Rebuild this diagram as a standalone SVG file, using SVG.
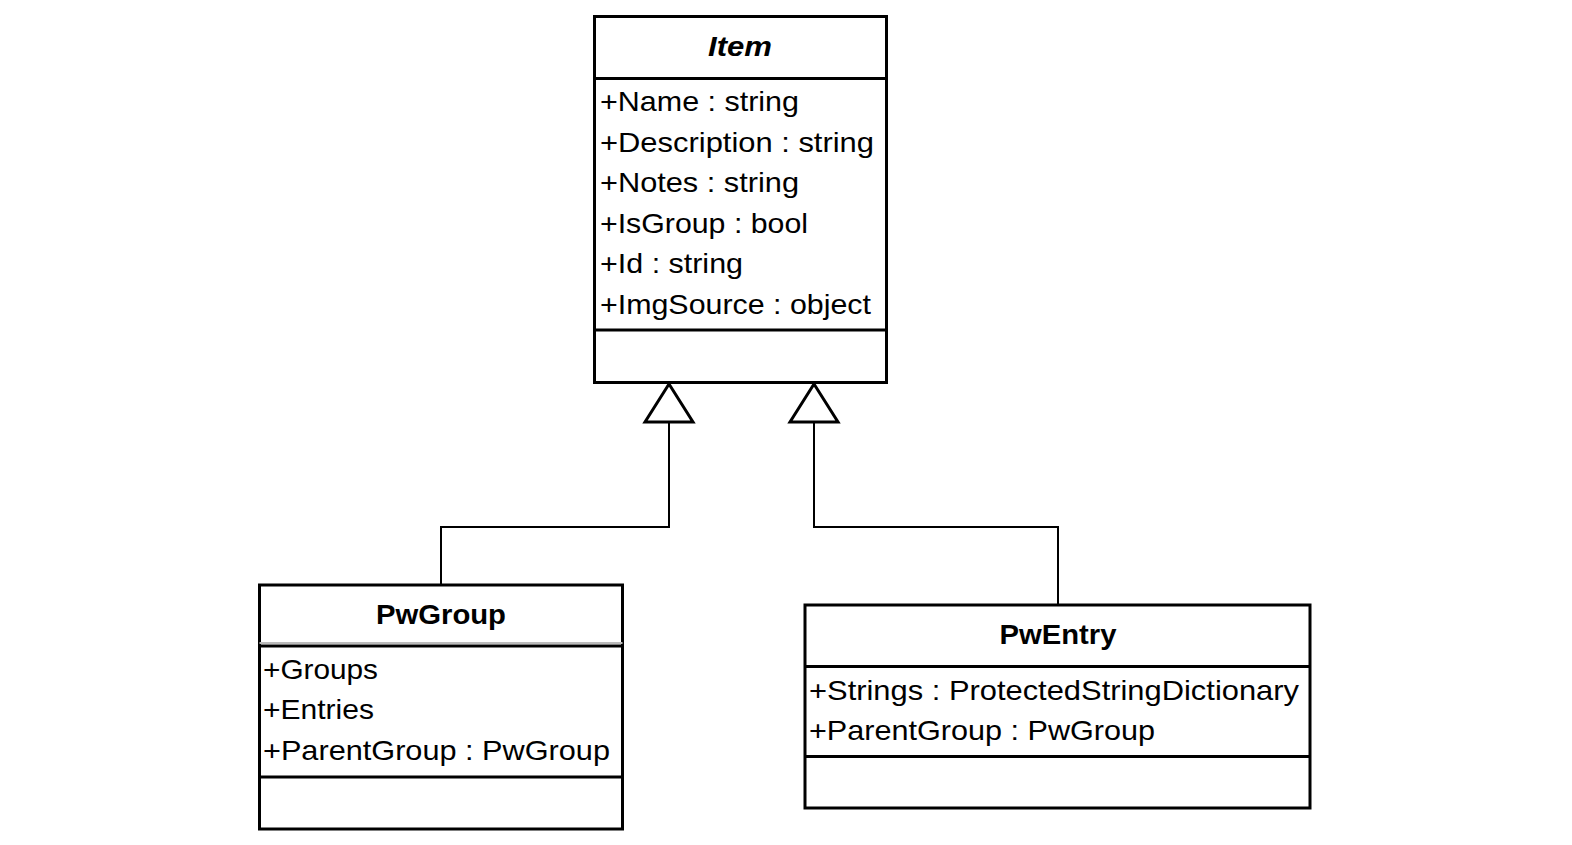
<svg xmlns="http://www.w3.org/2000/svg" width="1572" height="845" viewBox="0 0 1572 845">
<style>
.box{fill:#fff;stroke:#000;stroke-width:3}
.sep{stroke:#000;stroke-width:3}
.t{font-family:"Liberation Sans",Arial,sans-serif;font-size:28px;fill:#000}
.h{font-family:"Liberation Sans",Arial,sans-serif;font-size:28px;font-weight:bold;fill:#000;text-anchor:middle}
.conn{fill:none;stroke:#000;stroke-width:2}
.tri{fill:#fff;stroke:#000;stroke-width:3;stroke-linejoin:miter}
</style>
<rect width="1572" height="845" fill="#fff"/>
<g id="connectors">
<polyline class="conn" points="669,422 669,527 441,527 441,585"/>
<polyline class="conn" points="814,422 814,527 1058,527 1058,605"/>
<polygon class="tri" points="669,384 645,422 693,422"/>
<polygon class="tri" points="814,384 790,422 838,422"/>
</g>
<g id="Item">
<rect class="box" x="594.5" y="16.5" width="292" height="366"/>
<line class="sep" x1="594.5" y1="78.5" x2="886.5" y2="78.5"/>
<line class="sep" x1="594.5" y1="330" x2="886.5" y2="330"/>
<text class="h" x="740" y="56" font-style="italic" textLength="64" lengthAdjust="spacingAndGlyphs">Item</text>
<text class="t" x="600" y="111" textLength="199" lengthAdjust="spacingAndGlyphs">+Name : string</text>
<text class="t" x="600" y="152" textLength="274" lengthAdjust="spacingAndGlyphs">+Description : string</text>
<text class="t" x="600" y="192" textLength="199" lengthAdjust="spacingAndGlyphs">+Notes : string</text>
<text class="t" x="600" y="233" textLength="208" lengthAdjust="spacingAndGlyphs">+IsGroup : bool</text>
<text class="t" x="600" y="273" textLength="143" lengthAdjust="spacingAndGlyphs">+Id : string</text>
<text class="t" x="600" y="314" textLength="271" lengthAdjust="spacingAndGlyphs">+ImgSource : object</text>
</g>
<g id="PwGroup">
<rect class="box" x="259.5" y="585" width="363" height="244"/>
<line x1="259.5" y1="643" x2="622.5" y2="643" stroke="#bbb" stroke-width="2"/>
<line class="sep" x1="259.5" y1="646" x2="622.5" y2="646"/>
<line class="sep" x1="259.5" y1="777" x2="622.5" y2="777"/>
<text class="h" x="441" y="624" textLength="130" lengthAdjust="spacingAndGlyphs">PwGroup</text>
<text class="t" x="263" y="679" textLength="115" lengthAdjust="spacingAndGlyphs">+Groups</text>
<text class="t" x="263" y="719" textLength="111" lengthAdjust="spacingAndGlyphs">+Entries</text>
<text class="t" x="263" y="760" textLength="347" lengthAdjust="spacingAndGlyphs">+ParentGroup : PwGroup</text>
</g>
<g id="PwEntry">
<rect class="box" x="805" y="605" width="505" height="203"/>
<line class="sep" x1="805" y1="666.5" x2="1310" y2="666.5"/>
<line class="sep" x1="805" y1="756.5" x2="1310" y2="756.5"/>
<text class="h" x="1058" y="644" textLength="117" lengthAdjust="spacingAndGlyphs">PwEntry</text>
<text class="t" x="809" y="700" textLength="490" lengthAdjust="spacingAndGlyphs">+Strings : ProtectedStringDictionary</text>
<text class="t" x="809" y="740" textLength="346" lengthAdjust="spacingAndGlyphs">+ParentGroup : PwGroup</text>
</g>
</svg>
